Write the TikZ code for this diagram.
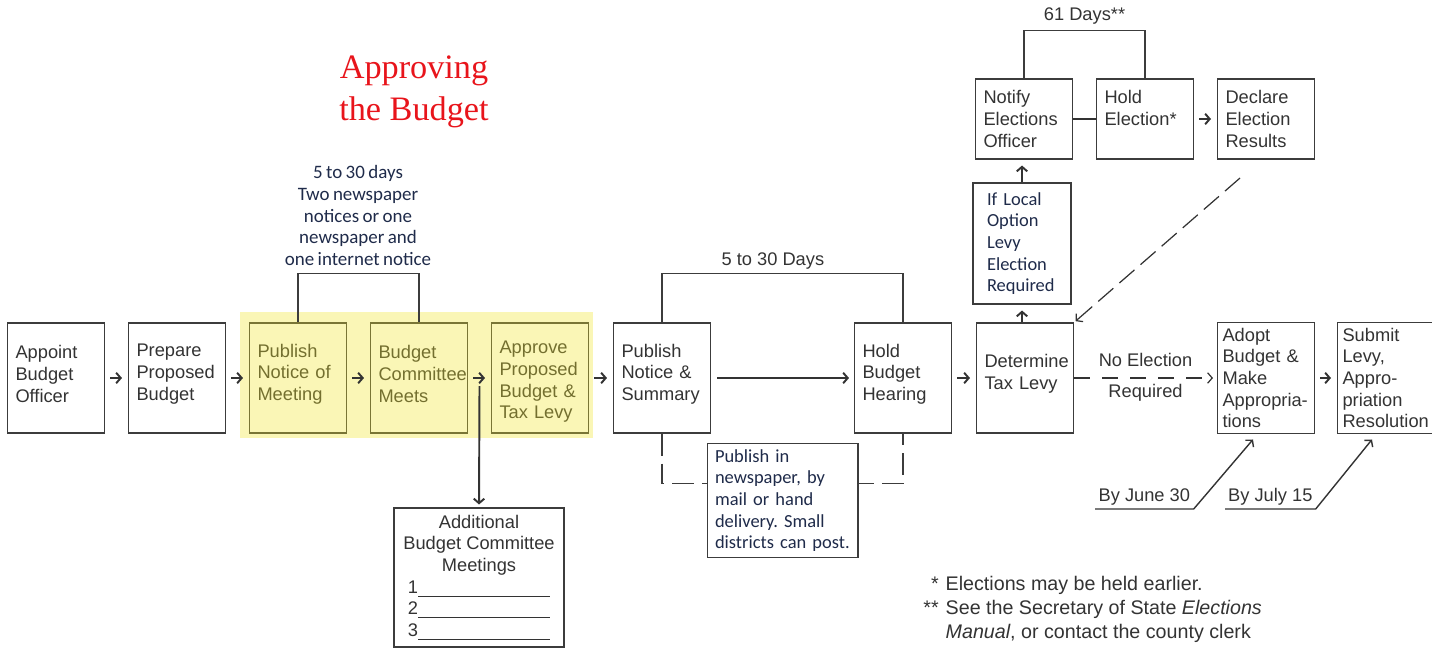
\documentclass[tikz,border=0pt]{standalone}
\usepackage{fontspec}
\setmainfont{Liberation Sans}
\newfontfamily\serifhead{Liberation Serif}
\newfontfamily\myriadlike[WordSpace=0.8]{Carlito}
\usetikzlibrary{calc,arrows.meta}
\definecolor{inkgray}{HTML}{333333}
\definecolor{edgegray}{HTML}{3C3C3C}
\definecolor{notenavy}{HTML}{1F2B4A}
\definecolor{hilite}{RGB}{240,228,40}
\definecolor{titlered}{HTML}{E8141B}
\frenchspacing

\begin{document}
\begin{tikzpicture}[x=0.02cm,y=-0.02cm,
  stage/.style={draw=edgegray,semithick,text=inkgray,minimum height=2.2cm,
    text width=1.62cm,inner xsep=0.16cm,align=left,
    font=\fontsize{10.4}{12.35}\selectfont},
  textlift/.style={execute at end node={\endgraf\vspace{#1}}},
  navytext/.style={text=notenavy,font=\myriadlike\fontsize{10.5}{12.35}\selectfont},
  plain/.style={text=inkgray,font=\fontsize{10.4}{12.35}\selectfont},
  flow/.style={-{Straight Barb[length=2.6pt,width=6pt]},line width=1.1pt,draw=inkgray,
    shorten <=0.1cm,shorten >=0.12cm},
  bracket/.style={draw=edgegray,semithick}]

\useasboundingbox (0,0) rectangle (1432,649);

% title
\node[text=titlered,font=\serifhead\fontsize{19.5}{23.9}\selectfont,align=center]
  (title) at (414,92) {Approving\\the Budget};

% main row
\node[stage,textlift=0.16cm] (b1) at (56,378) {Appoint\\Budget\\Officer};
\node[stage,textlift=0.16cm] (b2) at (177,378) {Prepare\\Proposed\\Budget};
\node[stage,textlift=0.16cm] (b3) at (298,378) {Publish\\Notice of\\Meeting};
\node[stage,textlift=0.16cm] (b4) at (419,378) {Budget\\Committee\\Meets};
\node[stage,textlift=-0.16cm] (b5) at (540,378) {Approve\\Proposed\\Budget \&\\Tax Levy};
\node[stage,textlift=0.16cm] (b6) at (662,378) {Publish\\Notice \&\\Summary};
\node[stage,textlift=0.16cm] (b7) at (903,378) {Hold\\Budget\\Hearing};
\node[stage,textlift=0.16cm] (b8) at (1025,378) {Determine\\Tax Levy};
\node[stage,inner xsep=0.1cm,text width=1.74cm] (b13) at (1266,378)
  {Adopt\\Budget \&\\Make\\Appropria-\\tions};
\node[stage,inner xsep=0.1cm,text width=1.74cm] (b14) at (1386,378)
  {Submit\\Levy,\\Appro-\\priation\\Resolution};

% election branch
\node[stage,navytext,minimum height=2.42cm,text width=1.4cm,inner xsep=0.28cm]
  (b9) at (1022,243.5) {If Local\\Option\\Levy\\Election\\Required};
\node[stage,minimum height=1.6cm] (b10) at (1024,119) {Notify\\Elections\\Officer};
\node[stage,minimum height=1.6cm] (b11) at (1145,119) {Hold\\Election*\\~};
\node[stage,minimum height=1.6cm] (b12) at (1266,119) {Declare\\Election\\Results};

% committee meetings
\node[draw=edgegray,semithick,plain,minimum width=3.4cm,minimum height=2.78cm,
  align=center] (extra) at (479,577.5)
  {Additional\\Budget Committee\\Meetings\\
   1\rule[-2pt]{2.64cm}{0.6pt}\\2\rule[-2pt]{2.64cm}{0.8pt}\\3\rule[-2pt]{2.64cm}{0.8pt}};

\fill[hilite,fill opacity=0.34] (240,312) rectangle (593,438);

% arrows along the row
\draw[flow] (b1) -- (b2);
\draw[flow] (b2) -- (b3);
\draw[flow] (b3) -- (b4);
\draw[flow] (b4) -- (b5);
\draw[flow] (b5) -- (b6);
\draw[flow,shorten <=0.12cm,shorten >=0.1cm] (b6) -- (b7);
\draw[flow] (b7) -- (b8);
\draw[flow] (b13) -- (b14);
\draw[flow,shorten <=0pt,shorten >=0.06cm] ($(b4.east)!0.5!(b5.west)+(0,8)$) -- (extra.north);

\draw[flow,shorten <=0pt,shorten >=0.12cm] (b8.north -| b9.south) -- (b9.south);
\draw[flow,shorten <=0pt] (b9.north) -- (b10.south -| b9.north);
\draw[line width=1.1pt,draw=inkgray] (b10) -- (b11);
\draw[flow] (b11) -- (b12);
\coordinate (resfoot) at (1240,178);
\draw[flow,line width=0.7pt,shorten <=0pt,shorten >=0.04cm,dash pattern=on 0.4cm off 0.16cm]
  (resfoot) -- (b8.north east);
\draw[flow,line width=0.7pt,shorten <=0pt,shorten >=0.08cm,dash pattern=on 0.32cm off 0.24cm]
  (b8.east) -- node[above=0.1cm,plain]{No Election} node[below,plain]{Required} (b13.west);

% time brackets
\draw[bracket] (b3.north) -- ++(0,-49) -| (b4.north);
\node[navytext,align=center,font=\myriadlike\fontsize{10.8}{12.35}\selectfont]
  (notice) at (358,215.5)
  {5 to 30 days\\Two newspaper\\notices or one\\newspaper and\\one internet notice};
\draw[bracket] (b6.north) -- ++(0,-49) -| node[pos=0.23,above=-1pt,plain]{5 to 30 Days} (b7.north);
\draw[bracket] (b10.north) -- ++(0,-48) -| node[pos=0.25,above,plain]{61 Days**} (b11.north);

\draw[bracket,dash pattern=on 0.44cm off 0.16cm] (b6.south) -- ++(0,50) -| (b7.south);
\node[draw=edgegray,semithick,fill=white,navytext,text width=2.7cm,inner xsep=0.16cm,
  minimum height=2.26cm,align=left] (pubnote) at (782.5,500.5)
  {Publish in\\newspaper, by\\mail or hand\\delivery. Small\\districts can post.};

% deadlines
\node[plain,anchor=south west,minimum width=1.96cm,inner xsep=0pt,inner ysep=2pt]
  (june) at (1095,509) {By June 30};
\draw[flow,line width=0.8pt,shorten <=0pt,shorten >=0pt] (june.south west) -- (june.south east)
  -- ($(b13.south)+(-13,5)$);
\node[plain,anchor=south west,minimum width=1.8cm,inner xsep=0pt,inner ysep=2pt]
  (july) at (1225,509) {By July 15};
\draw[flow,line width=0.8pt,shorten <=0pt,shorten >=0pt] (july.south west) -- (july.south east)
  -- ($(b14.south west)+(35,5)$);

% footnotes
\node[plain,anchor=north west,inner sep=0pt,font=\fontsize{11.2}{13.65}\selectfont]
  (notes) at (923,573)
  {\begin{tabular}{@{}r@{\hspace{4pt}}l@{}}
   *&Elections may be held earlier.\\
   {**}&See the Secretary of State \textit{Elections}\\
   &\textit{Manual}, or contact the county clerk
   \end{tabular}};
\end{tikzpicture}
\end{document}
